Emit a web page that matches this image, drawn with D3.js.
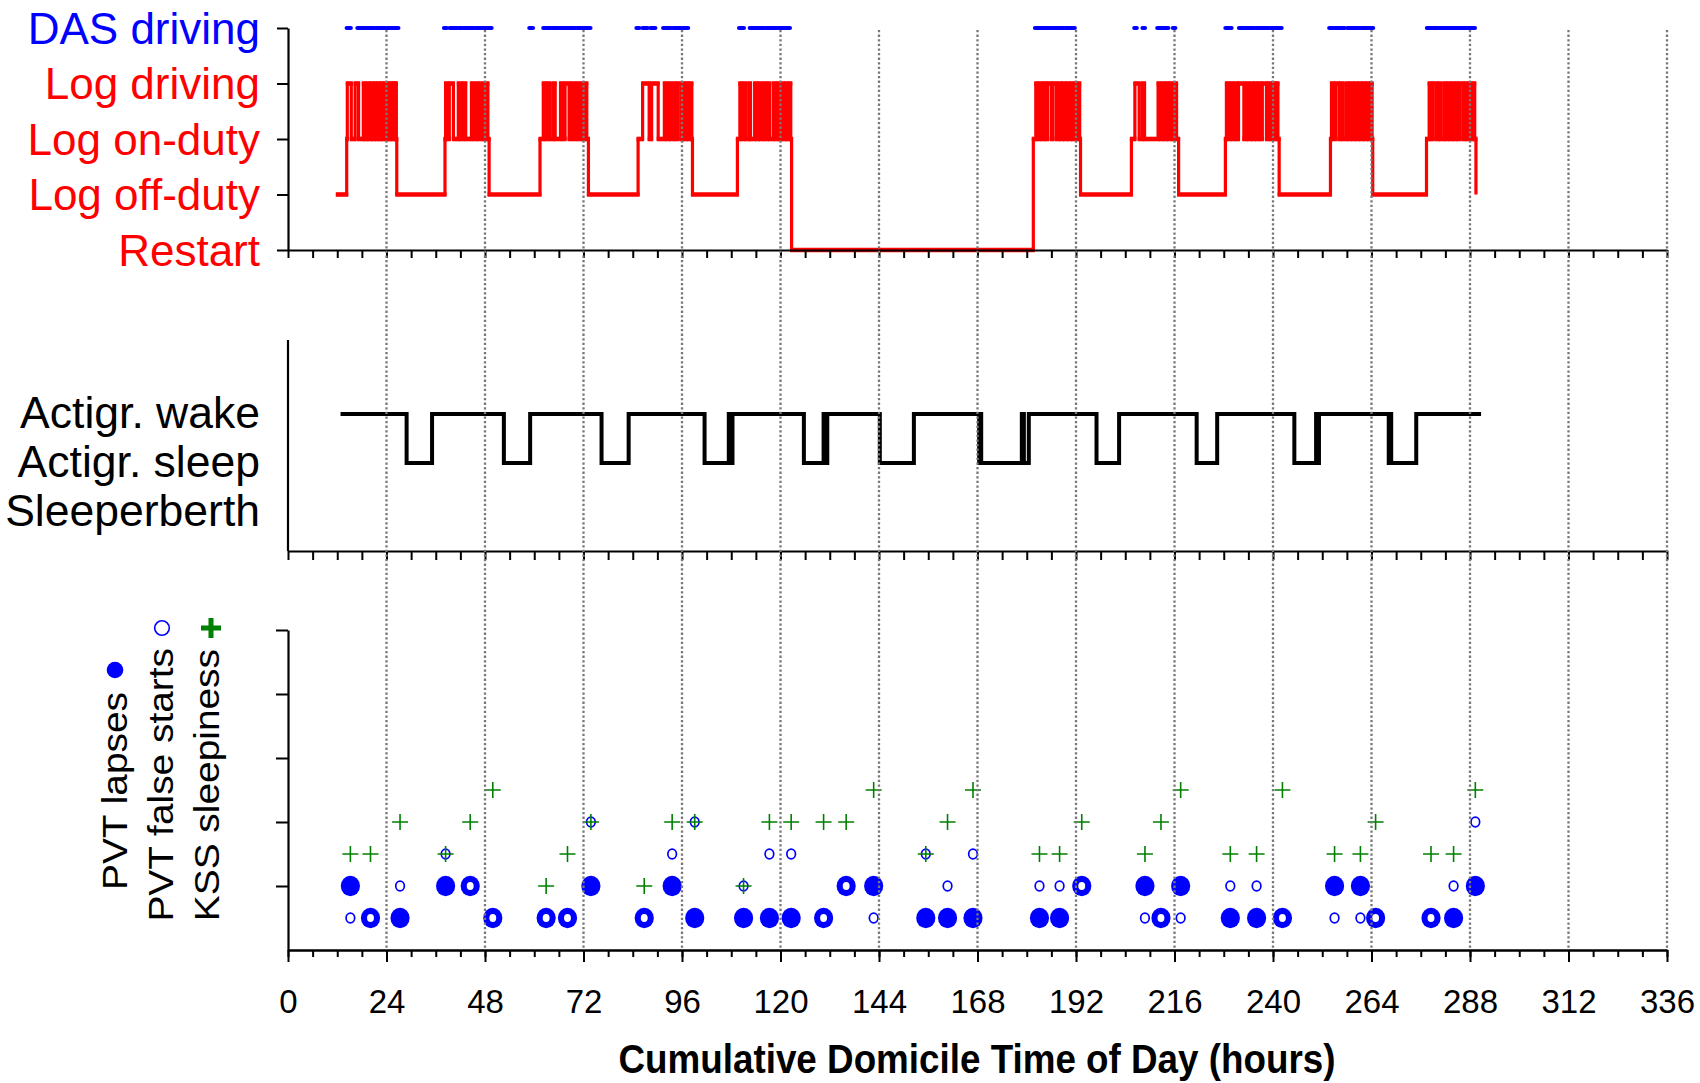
<!DOCTYPE html>
<html><head><meta charset="utf-8">
<script src="https://cdn.jsdelivr.net/npm/d3@7"></script>
<style>
body{margin:0;background:#fff}
text{font-family:"Liberation Sans",Arial,sans-serif}
</style>
</head><body>
<svg id="chart" width="1700" height="1083"></svg>
<script>
// ---------------- DATA ----------------
const xTickLabels = [0,24,48,72,96,120,144,168,192,216,240,264,288,312,336];
const logLevelLabels = ["Restart","Log off-duty","Log on-duty","Log driving","DAS driving"];
const actiLevelLabels = ["Sleeperberth","Actigr. sleep","Actigr. wake"];

// Log: off-duty start, work blocks (start on-duty, toggles driving/on-duty, end)
const logStart = 12.0;
const logBlockStart = [14.3, 38.25, 61.4, 85.3, 109.5, 181.6, 205.5, 228.4, 254.0, 277.4];
const logBlockEnd   = [26.5, 49.0, 73.2, 98.55, 122.7, 193.1, 217.0, 241.5, 264.3, 289.45];
const logBlockEndLevel = [1,1,1,1,0,1,1,1,1,1];
const logToggles = [
  [14.45,15.42,16.36,17.2,18.35,18.8,19.25,19.7,20.15,20.6,21.05,21.5,21.95,22.33,22.75,23.15,23.5,23.9,24.3,24.65,24.95,25.3,25.65,26.0,26.25,26.4],
  [38.4,38.8,39.3,40.3,41.5,42.06,42.7,43.3,44.7,45.3,45.96,46.5,47.2,47.75,48.2,48.7],
  [62.2,62.7,63.2,63.8,64.6,65.1,66.4,66.9,67.5,68.5,69.1,69.7,70.3,70.8,71.3,71.8,72.3,72.8],
  [86.4,88.0,88.6,90.2,91.7,92.2,92.7,93.2,93.9,94.4,94.9,95.7,96.2,96.6,97.1,97.6,98.0,98.4],
  [110.1,110.6,111.1,111.5,112.3,112.7,113.7,114.2,114.7,115.1,115.8,116.3,116.8,117.3,118.2,118.7,119.2,119.7,120.2,120.7,121.2,121.6,122.1,122.5],
  [182.2,182.7,183.2,183.7,184.2,184.65,185.1,186.0,186.4,187.25,187.7,188.2,188.7,189.2,189.7,190.2,190.7,191.15,191.6,192.1,192.6,192.9],
  [206.35,207.4,208.2,208.7,212.0,212.5,213.0,213.5,214.05,214.5,215.0,215.5,216.0,216.5],
  [228.65,229.2,229.6,230.1,230.6,231.1,231.6,232.9,233.5,234.0,234.5,235.0,235.5,236.0,236.5,237.0,237.4,238.4,238.9,239.4,239.9,240.4,240.85,241.2],
  [254.25,254.7,255.2,256.05,256.5,257.1,257.9,258.4,258.9,259.4,259.85,260.3,260.8,261.3,261.8,262.3,262.8,263.3,263.75,264.15],
  [278.05,278.5,279.0,279.8,280.3,280.8,281.6,282.1,282.6,283.1,283.6,284.05,284.5,285.0,285.5,286.3,286.8,287.3,287.8,288.3,288.75,289.15]
];
// DAS driving intervals [start, end] in hours
const dasIntervals = [
  [14.3,15.3],[16.9,21.0],[21.4,23.6],[24.0,26.9],
  [38.0,38.7],[39.4,41.2],[41.6,42.4],[42.8,45.3],[45.7,49.6],
  [58.8,59.7],[62.2,64.0],[64.4,66.0],[66.4,70.0],[70.4,73.7],
  [84.9,85.6],[86.4,87.6],[88.3,89.5],[91.4,93.3],[93.8,95.9],[96.3,97.5],
  [109.9,111.1],[112.5,116.0],[116.4,119.0],[119.4,122.3],
  [182.0,186.0],[186.4,189.0],[189.4,191.7],
  [206.2,206.8],[208.2,208.8],[211.8,214.5],[215.6,216.2],
  [228.4,229.9],[231.7,235.5],[235.9,239.0],[239.4,242.1],
  [253.7,254.6],[255.0,257.5],[258.1,261.0],[261.4,264.4],
  [277.5,289.2]
];
// Actigraphy: times (h) and states (2 = wake, 1 = sleep)
const actiTimes  = [12.8,28.9,35.1,52.6,59.0,76.4,83.0,101.5,107.4,107.8,108.3,125.7,130.5,130.8,131.4,144.2,152.5,168.4,168.7,168.9,178.8,179.3,180.5,197.0,202.5,221.4,226.4,245.2,250.5,250.8,251.2,268.2,268.5,268.8,274.9,290.7];
const actiStates = [2,1,2,1,2,1,2,1,2,1,2,1,2,1,2,1,2,1,2,1,2,1,2,1,2,1,2,1,2,1,2,1,2,1,2,2];
// PVT / KSS sessions
const sessionTimes = [15.2,20.1,27.3,38.4,44.4,49.9,62.9,68.1,73.8,86.8,93.6,99.1,111.0,117.3,122.6,130.5,136.0,142.7,155.4,160.7,166.9,183.1,188.0,193.4,208.8,212.7,217.5,229.6,236.0,242.3,255.0,261.3,265.0,278.5,284.0,289.3];
const pvtLapses      = [2,1,1,2,2,1,1,1,2,1,2,1,1,1,1,1,2,2,1,1,1,1,1,2,2,1,2,1,1,1,2,2,1,1,1,2];
const pvtFalseStarts = [1,1,2,3,2,1,1,1,4,1,3,4,2,3,3,1,2,1,3,2,3,2,2,2,1,1,1,2,2,1,1,1,1,1,2,4];
const kssSleepiness  = [3,3,4,3,4,5,2,3,4,2,4,4,2,4,4,4,4,5,3,4,5,3,3,4,3,4,5,3,3,5,3,3,4,3,3,5];

// ---------------- CHART ----------------
const svg = d3.select("#chart");
const RED = "#ff0000", BLUE = "#0000ff", GREEN = "#008000";
const x = d3.scaleLinear().domain([0,336]).range([288,1667]);
const yLog = d3.scaleLinear().domain([0,4]).range([250,28]);
const yAct = d3.scaleLinear().domain([0,2]).range([512,414]);
const yPvt = d3.scaleLinear().domain([0,10]).range([950,630]);
const minorTicks = d3.range(0,337,6);

function styleAxis(g){
  g.selectAll("path").attr("stroke","#000").attr("stroke-width",2.2);
  g.selectAll("line").attr("stroke","#000").attr("stroke-width",2);
}

// ---- top panel ----
const logSteps = [[logStart,1]];
logBlockStart.forEach((s,i)=>{
  logSteps.push([s,2]);
  logToggles[i].forEach((t,j)=>logSteps.push([t, j%2===0?3:2]));
  logSteps.push([logBlockEnd[i], logBlockEndLevel[i]]);
});
const stepLine = d3.line().x(d=>x(d[0])).y(d=>yLog(d[1])).curve(d3.curveStepAfter);
svg.append("path").datum(logSteps).attr("d",stepLine)
  .attr("fill","none").attr("stroke",RED).attr("stroke-width",3.2);
const hSegs = logSteps.slice(0,-1).map((d,i)=>[d[0],logSteps[i+1][0],d[1]]);
svg.append("g").selectAll("line").data(hSegs).join("line")
  .attr("x1",d=>x(d[0])-1.5).attr("x2",d=>x(d[1])+1.5)
  .attr("y1",d=>yLog(d[2])).attr("y2",d=>yLog(d[2]))
  .attr("stroke",RED).attr("stroke-width",4.6);

svg.append("g").selectAll("line").data(dasIntervals).join("line")
  .attr("x1",d=>x(d[0])).attr("x2",d=>x(d[1]))
  .attr("y1",yLog(4)).attr("y2",yLog(4))
  .attr("stroke",BLUE).attr("stroke-width",4.2).attr("stroke-linecap","round");

const gTopX = svg.append("g").attr("transform",`translate(0,${yLog(0)})`)
  .call(d3.axisBottom(x).tickValues(minorTicks).tickFormat("").tickSize(8).tickSizeOuter(0));
styleAxis(gTopX);
const gTopY = svg.append("g").attr("transform",`translate(${x(0)},0)`)
  .call(d3.axisLeft(yLog).tickValues([0,1,2,3,4]).tickFormat(i=>logLevelLabels[i]).tickSize(11).tickSizeOuter(0).tickPadding(17));
styleAxis(gTopY);
gTopY.selectAll("text").attr("font-size",44).attr("font-family","'Liberation Sans',Arial,sans-serif")
  .attr("fill",(d)=>d===4?BLUE:RED).attr("dy","0.35em");

// ---- middle panel ----
const actiPts = actiTimes.map((t,i)=>[t,actiStates[i]]);
const actLine = d3.line().x(d=>x(d[0])).y(d=>yAct(d[1])).curve(d3.curveStepAfter);
svg.append("path").datum(actiPts).attr("d",actLine)
  .attr("fill","none").attr("stroke","#000").attr("stroke-width",4);
const gMidX = svg.append("g").attr("transform","translate(0,551)")
  .call(d3.axisBottom(x).tickValues(minorTicks).tickFormat("").tickSize(9).tickSizeOuter(0));
styleAxis(gMidX);
svg.append("line").attr("x1",x(0)).attr("x2",x(0)).attr("y1",340).attr("y2",551)
  .attr("stroke","#000").attr("stroke-width",2.2);
svg.append("g").selectAll("text").data(actiLevelLabels).join("text")
  .attr("x",260).attr("y",(d,i)=>yAct(i)-2).attr("dy","0.35em")
  .attr("text-anchor","end").attr("font-size",44.5).attr("fill","#000").text(d=>d);

// ---- bottom panel ----
const gBotMinor = svg.append("g").attr("transform",`translate(0,${yPvt(0)})`)
  .call(d3.axisBottom(x).tickValues(minorTicks).tickFormat("").tickSize(7).tickSizeOuter(0));
styleAxis(gBotMinor);
const gBotX = svg.append("g").attr("transform",`translate(0,${yPvt(0)})`)
  .call(d3.axisBottom(x).tickValues(xTickLabels).tickSize(12).tickSizeOuter(0).tickPadding(28));
styleAxis(gBotX);
gBotX.selectAll("text").attr("font-size",33).attr("font-family","'Liberation Sans',Arial,sans-serif").attr("fill","#000");
const gBotY = svg.append("g").attr("transform",`translate(${x(0)},0)`)
  .call(d3.axisLeft(yPvt).tickValues([2,4,6,8,10]).tickFormat("").tickSize(12).tickSizeOuter(0));
styleAxis(gBotY);

const sessions = sessionTimes.map((t,i)=>({t, lapse:pvtLapses[i], fs:pvtFalseStarts[i], kss:kssSleepiness[i]}));
svg.append("g").selectAll("ellipse").data(sessions).join("ellipse")
  .attr("cx",d=>x(d.t)).attr("cy",d=>yPvt(d.lapse)).attr("rx",9.6).attr("ry",10.2)
  .attr("fill",BLUE);
svg.append("g").selectAll("ellipse").data(sessions).join("ellipse")
  .attr("cx",d=>x(d.t)).attr("cy",d=>yPvt(d.fs)).attr("rx",4.3).attr("ry",4.9)
  .attr("fill","#fff").attr("stroke",BLUE).attr("stroke-width",1.7);
const gK = svg.append("g").attr("stroke",GREEN).attr("stroke-width",1.6);
gK.selectAll("path").data(sessions).join("path")
  .attr("d",d=>{const cx=x(d.t), cy=yPvt(d.kss); return `M${cx-8},${cy}H${cx+8}M${cx},${cy-8}V${cy+8}`;});

// legend (rotated)
const legend = [
  {label:"PVT lapses", bx:127, endY:692},
  {label:"PVT false starts", bx:173, endY:648},
  {label:"KSS sleepiness", bx:219, endY:649}
];
svg.append("g").selectAll("text").data(legend).join("text")
  .attr("transform",d=>`translate(${d.bx},${d.endY}) rotate(-90) scale(1.08,1)`)
  .attr("text-anchor","end").attr("font-size",36).attr("fill","#000").text(d=>d.label);
svg.append("circle").attr("cx",115).attr("cy",670).attr("r",8.3).attr("fill",BLUE);
svg.append("circle").attr("cx",162).attr("cy",628).attr("r",7.3).attr("fill","#fff").attr("stroke",BLUE).attr("stroke-width",1.6);
svg.append("path").attr("d","M201,628H221M211,618V638").attr("stroke",GREEN).attr("stroke-width",5);

// axis title
svg.append("text").attr("x",977).attr("y",1073).attr("text-anchor","middle")
  .attr("font-size",40).attr("font-weight","bold").attr("textLength",717).attr("lengthAdjust","spacingAndGlyphs")
  .text("Cumulative Domicile Time of Day (hours)");

// gridlines on top
svg.append("g").selectAll("line").data(xTickLabels.slice(1)).join("line")
  .attr("x1",d=>x(d)).attr("x2",d=>x(d)).attr("y1",30).attr("y2",950)
  .attr("stroke","#787878").attr("stroke-width",2.3).attr("stroke-dasharray","2.3,2.3");
</script>
</body></html>
